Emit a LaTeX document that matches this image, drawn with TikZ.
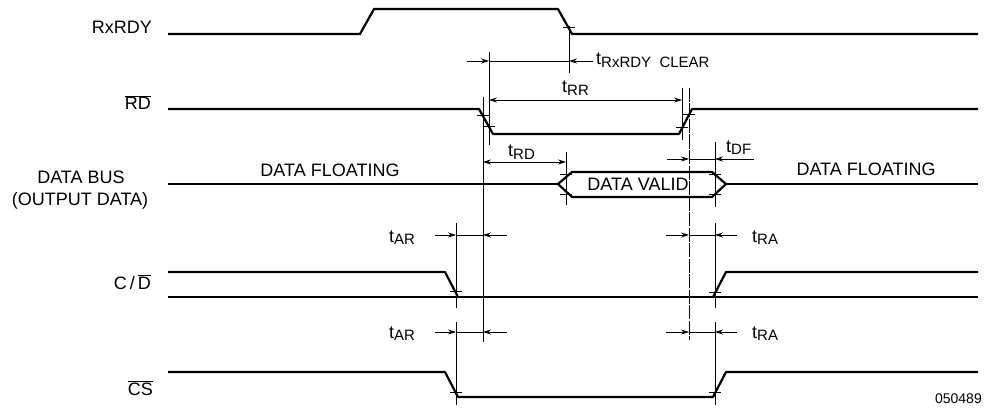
\documentclass[tikz,border=0pt]{standalone}
\usepackage{fontspec}
\setmainfont{Liberation Sans}
\usetikzlibrary{arrows.meta}
\newcommand{\tsub}[1]{t\raisebox{-2.5pt}{\fontsize{15}{17}\selectfont #1}}
\newcommand{\actlow}[1]{$\overline{\mbox{#1}}$}

\begin{document}
\begin{tikzpicture}[x=1pt,y=-1pt,font=\fontsize{18}{22}\selectfont,
    wave/.style={line width=2.2pt,line join=round},
    guide/.style={line width=0.7pt},
    dimarrow/.style={guide,-{Stealth[length=8pt,width=5pt]}},
    edgetick/.style={line width=1pt},
    sig/.style={anchor=base east,inner sep=0pt},
    tlabel/.style={anchor=base west,inner sep=0pt}]
            \useasboundingbox (0,0) rectangle (990,409);

            % Signal names
            \node[sig] (nrxrdy) at (152,34) {RxRDY};
            \node[sig] (nrd) at (151,110) {\actlow{RD}};
            \node[anchor=base,inner sep=0pt] (nbus) at (81,183) {DATA BUS};
            \node[anchor=base,inner sep=0pt] (nbusout) at (80,205) {(OUTPUT DATA)};
            \node[sig] (ncd) at (151,289) {C\,/\,\actlow{D}};
            \node[sig] (ncs) at (153,395) {\actlow{CS}};

            % RxRDY
            \draw[wave] (168,34) -- (360,34) -- (374,9) -- (558,9) -- (572,34) -- (978,34);

            % RD
            \draw[wave] (168,109) -- (479,109) -- (493,134) -- (679,134) -- (692,109) -- (978,109);

            % Data bus
            \draw[wave] (168,184) -- (558,184);
            \draw[wave] (558,184) -- (572,172) -- (712,172) -- (726,184) -- (712,197) -- (572,197) -- cycle;
            \draw[wave] (726,184) -- (978,184);
            \node[anchor=base,inner sep=0pt] (nfloatl) at (330,176) {DATA FLOATING};
            \node[anchor=base,inner sep=0pt] (nvalid) at (638,190) {DATA VALID};
            \node[anchor=base,inner sep=0pt] (nfloatr) at (866,175) {DATA FLOATING};

            % C/D
            \draw[wave] (168,272) -- (445,272) -- (458,297);
            \draw[wave] (168,297) -- (978,297);
            \draw[wave] (713,297) -- (726,272) -- (978,272);

            % CS
            \draw[wave] (168,372) -- (445,372) -- (458,397) -- (713,397) -- (726,372) -- (978,372);

            % Reference lines
            \draw[guide] (569,26) -- (569,73);
            \draw[guide] (489,52) -- (489,145);
            \draw[guide] (483,97) -- (483,342);
            \draw[guide] (682,88) -- (682,140);
            \draw[guide,dash pattern=on 14pt off 1.5pt] (689,88) -- (689,340);
            \draw[guide] (566,152) -- (566,205);
            \draw[guide] (715,142) -- (715,207);
            \draw[guide] (715,223) -- (715,308);
            \draw[guide] (715,322) -- (715,405);
            \draw[guide] (456,223) -- (456,308);
            \draw[guide] (456,322) -- (456,405);

            % Threshold ticks on the edges
            \foreach \x/\y in {569/28,483/116,489/127,682/128,689/115,566/174,566/194,
                               715/174,715/194,456/291,715/292,456/392,715/392}
                \draw[edgetick] (\x-6,\y) -- (\x+6,\y);

            % tRxRDY CLEAR
            \draw[guide] (489,61) -- (569,61);
            \draw[dimarrow] (467,61) -- (489,61);
            \draw[dimarrow] (593,61) -- (569,61);
            \node[tlabel] (tclear) at (596,65) {\tsub{RxRDY\ \ CLEAR}};

            % tRR
            \draw[guide,{Stealth[length=8pt,width=5pt]}-{Stealth[length=8pt,width=5pt]}] (489,100) -- (682,100);
            \node[tlabel] (trr) at (562,93) {\tsub{RR}};

            % tRD
            \draw[guide,{Stealth[length=8pt,width=5pt]}-{Stealth[length=8pt,width=5pt]}] (483,162) -- (566,162);
            \node[tlabel] (trd) at (508,157) {\tsub{RD}};

            % tDF
            \draw[guide] (689,159) -- (715,159);
            \draw[dimarrow] (667,159) -- (689,159);
            \draw[dimarrow] (754,159) -- (715,159);
            \node[tlabel] (tdf) at (726,152) {\tsub{DF}};

            % tAR and tRA
            \foreach \y/\b in {235/242,332/338}{
                \draw[guide] (456,\y) -- (483,\y);
                \draw[dimarrow] (435,\y) -- (456,\y);
                \draw[dimarrow] (507,\y) -- (483,\y);
                \node[tlabel] at (389,\b) {\tsub{AR}};
                \draw[guide] (689,\y) -- (715,\y);
                \draw[dimarrow] (666,\y) -- (689,\y);
                \draw[dimarrow] (737,\y) -- (715,\y);
                \node[tlabel] at (752,\b) {\tsub{RA}};
            }

            \node[anchor=base east,inner sep=0pt,font=\fontsize{14}{16}\selectfont] (nfig) at (982,403) {050489};
        \end{tikzpicture}
\end{document}
